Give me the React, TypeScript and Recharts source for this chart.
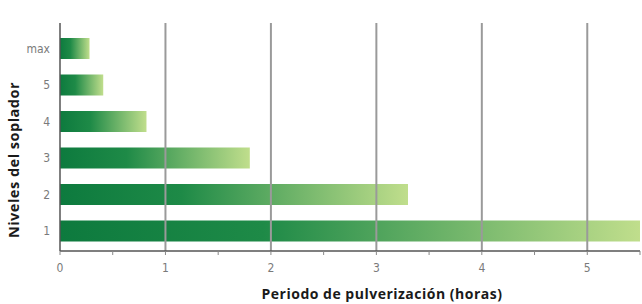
import React from 'react';
import { BarChart, Bar, XAxis, YAxis, ReferenceLine } from 'recharts';

const LEVELS = ['max', '5', '4', '3', '2', '1'];
const HOURS = [0.28, 0.41, 0.82, 1.8, 3.3, 5.5];
const X_TICKS = [0, 0.5, 1, 1.5, 2, 2.5, 3, 3.5, 4, 4.5, 5, 5.5];
const GRID_VALUES = [1, 2, 3, 4, 5];

const data = LEVELS.map((level, i) => ({ level, hours: HOURS[i] }));

const tickFont = "'Liberation Sans Narrow', 'DejaVu Sans Condensed', Roboto, sans-serif";
const titleFont = "'Open Sans', sans-serif";

const App: React.FC = () => {
  const formatX = (v: number) => (Number.isInteger(v) && v <= 5 ? String(v) : '');

  return (
    <div style={{ width: 642, height: 304, background: '#fff' }}>
      <style>{'body{margin:0}'}</style>
      <BarChart
        width={642}
        height={304}
        data={data}
        layout="vertical"
        margin={{ top: 23, right: 2, left: 0, bottom: 0 }}
      >
        <defs>
          <linearGradient id="barGrad" x1="0" y1="0" x2="1" y2="0">
            <stop offset="0%" stopColor="#0d7a3e" />
            <stop offset="35%" stopColor="#1e8a47" />
            <stop offset="100%" stopColor="#c0de8c" />
          </linearGradient>
        </defs>
        <XAxis
          type="number"
          dataKey="hours"
          domain={[0, 5.5]}
          ticks={X_TICKS}
          tickFormatter={formatX}
          interval={0}
          height={53}
          tickSize={4}
          tickMargin={8}
          axisLine={{ stroke: '#555', strokeWidth: 1.5 }}
          tickLine={{ stroke: '#888' }}
          tick={{ fill: '#7a7a7a', fontSize: 12, fontFamily: tickFont }}
          label={{
            value: 'Periodo de pulverización (horas)',
            position: 'insideBottom',
            offset: 5,
            dx: 32,
            style: { fill: '#1a1a1a', fontSize: 14, fontWeight: 700, letterSpacing: 0.5, fontFamily: titleFont },
          }}
        />
        <YAxis
          type="category"
          dataKey="level"
          width={60}
          tickLine={false}
          tickSize={0}
          tickMargin={10}
          padding={{ top: 7, bottom: 2 }}
          axisLine={{ stroke: '#555', strokeWidth: 1.5 }}
          tick={{ fill: '#7a7a7a', fontSize: 12, fontFamily: tickFont }}
          label={{
            value: 'Niveles del soplador',
            angle: -90,
            position: 'center',
            dx: -16,
            dy: 23,
            style: { fill: '#1a1a1a', fontSize: 14.5, fontWeight: 700, letterSpacing: 0.5, fontFamily: titleFont, textAnchor: 'middle' },
          }}
        />
        {GRID_VALUES.map((v) => (
          <ReferenceLine key={v} x={v} stroke="#9a9a9a" strokeWidth={2} />
        ))}
        <Bar dataKey="hours" fill="url(#barGrad)" barSize={21} isAnimationActive={false} />
      </BarChart>
    </div>
  );
};

export default App;
